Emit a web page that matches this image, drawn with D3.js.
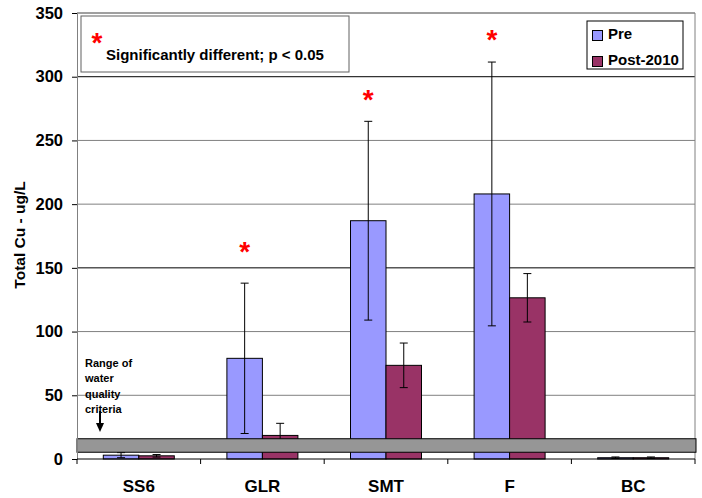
<!DOCTYPE html>
<html>
<head>
<meta charset="utf-8">
<script src="https://d3js.org/d3.v7.min.js"></script>
<style>
  body { margin: 0; background: #fff; font-family: "Liberation Sans", Arial, sans-serif; }
  text { font-weight: bold; }
</style>
</head>
<body>
<script>
// data
var sites = ["SS6", "GLR", "SMT", "F", "BC"];
var preMean = [3, 79, 187, 208, 1];
var preErr = [2, 59, 78, 103.5, 0.6];
var postMean = [2.5, 18.5, 73.5, 126.5, 1];
var postErr = [1, 9.5, 17.5, 19, 0.6];
var sigAt = [null, 166, 286, 333, null]; // where the red asterisks sit
var yTicks = [0, 50, 100, 150, 200, 250, 300, 350];
var criteria = [5.3, 15.9];

var W = 702, H = 498;
var pL = 77, pR = 695, pT = 13, pB = 459;

var svg = d3.select("body").append("svg")
    .attr("width", W).attr("height", H);

var x = d3.scaleBand().domain(sites).range([pL, pR]);
var y = d3.scaleLinear().domain([0, 350]).range([pB, pT]);
var barW = 35.5;

// gridlines
svg.append("g").selectAll("line")
    .data(yTicks.filter(function(d) { return d > 0; }))
  .enter().append("line")
    .attr("x1", pL).attr("x2", pR)
    .attr("y1", function(d) { return y(d); })
    .attr("y2", function(d) { return y(d); })
    .attr("stroke", function(d) { return d == 300 || d == 150 ? "#000" : "#808080"; });

// plot border top/right
svg.append("path")
    .attr("d", "M" + pL + "," + pT + "H" + pR + "V" + pB)
    .attr("fill", "none").attr("stroke", "#808080");

// bars
function bars(mean, err, color, dx) {
  var g = svg.append("g");
  g.selectAll("rect").data(sites).enter().append("rect")
      .attr("x", function(d) { return x(d) + x.bandwidth() / 2 + dx; })
      .attr("width", barW)
      .attr("y", function(d, i) { return y(mean[i]); })
      .attr("height", function(d, i) { return pB - y(mean[i]); })
      .attr("fill", color).attr("stroke", "#000");
  var e = g.selectAll(".err").data(sites).enter().append("g").attr("class", "err")
      .attr("transform", function(d) { return "translate(" + (x(d) + x.bandwidth() / 2 + dx + barW / 2) + ",0)"; });
  e.append("line")
      .attr("y1", function(d, i) { return y(mean[i] - err[i]); })
      .attr("y2", function(d, i) { return y(mean[i] + err[i]); })
      .attr("stroke", "#000");
  [1, -1].forEach(function(s) {
    e.append("line").attr("x1", -4).attr("x2", 4)
        .attr("y1", function(d, i) { return y(mean[i] + s * err[i]); })
        .attr("y2", function(d, i) { return y(mean[i] + s * err[i]); })
        .attr("stroke", "#000");
  });
}
bars(preMean, preErr, "#9999FF", -barW);
bars(postMean, postErr, "#993366", 0);

// criteria band
svg.append("rect")
    .attr("x", pL).attr("width", pR - pL + 1)
    .attr("y", y(criteria[1])).attr("height", y(criteria[0]) - y(criteria[1]))
    .attr("fill", "#969696").attr("stroke", "#000");

// axes
var yAxis = svg.append("g")
    .attr("transform", "translate(" + pL + ",0)")
    .call(d3.axisLeft(y).tickValues(yTicks).tickSize(5).tickPadding(9));
yAxis.select(".domain").attr("stroke", "#808080");
yAxis.selectAll(".tick line").attr("stroke", "#000");
yAxis.selectAll("text").style("font-size", "16.5px").attr("fill", "#000")
    .style("font-family", "Liberation Sans, Arial, sans-serif");

var xAxis = svg.append("g")
    .attr("transform", "translate(0," + pB + ")")
    .call(d3.axisBottom(x).tickSize(0).tickPadding(21));
xAxis.select(".domain").remove();
xAxis.selectAll("text").style("font-size", "17px").attr("fill", "#000")
    .style("font-family", "Liberation Sans, Arial, sans-serif");
svg.append("line").attr("x1", pL).attr("x2", pR)
    .attr("y1", pB).attr("y2", pB).attr("stroke", "#000");
svg.append("g").selectAll("line").data(sites.concat(["end"]))
  .enter().append("line")
    .attr("x1", function(d, i) { return pL + i * x.bandwidth(); })
    .attr("x2", function(d, i) { return pL + i * x.bandwidth(); })
    .attr("y1", pB).attr("y2", pB + 5).attr("stroke", "#000");

svg.append("text")
    .attr("transform", "translate(25,235) rotate(-90)")
    .attr("text-anchor", "middle").style("font-size", "15.5px")
    .text("Total Cu - ug/L");

// significance asterisks
svg.append("g").selectAll("text")
    .data(sites.filter(function(d, i) { return sigAt[i] != null; }))
  .enter().append("text")
    .attr("x", function(d) { return x(d) + x.bandwidth() / 2 - barW / 2; })
    .attr("y", function(d) { return y(sigAt[sites.indexOf(d)]) + 14; })
    .attr("text-anchor", "middle").attr("fill", "#ff0000")
    .style("font-size", "28px").text("*");

// note box
svg.append("rect").attr("x", 81).attr("y", 16).attr("width", 268).attr("height", 56)
    .attr("fill", "#fff").attr("stroke", "#606060");
svg.append("text").attr("x", 97).attr("y", 52).attr("text-anchor", "middle")
    .attr("fill", "#ff0000").style("font-size", "28px").text("*");
svg.append("text").attr("x", 106).attr("y", 60).style("font-size", "15px")
    .text("Significantly different; p < 0.05");

// legend
var lg = svg.append("g");
lg.append("rect").attr("x", 587).attr("y", 21).attr("width", 96).attr("height", 48)
    .attr("fill", "#fff").attr("stroke", "#000");
[["Pre", "#9999FF"], ["Post-2010", "#993366"]].forEach(function(d, i) {
  lg.append("rect").attr("x", 592.5).attr("y", 30.5 + i * 26).attr("width", 10).attr("height", 10)
      .attr("fill", d[1]).attr("stroke", "#000");
  lg.append("text").attr("x", 608).attr("y", 39 + i * 26).style("font-size", "15px").text(d[0]);
});

// criteria note
var note = ["Range of", "water", "quality", "criteria"];
svg.append("g").selectAll("text").data(note).enter().append("text")
    .attr("x", 85).attr("y", function(d, i) { return 367 + i * 15.4; })
    .style("font-size", "11px").text(function(d) { return d; });
svg.append("line").attr("x1", 100).attr("x2", 100).attr("y1", 411).attr("y2", 425)
    .attr("stroke", "#000").attr("stroke-width", 2);
svg.append("path").attr("d", "M96,423 L104,423 L100,432 Z").attr("fill", "#000");
</script>
</body>
</html>
